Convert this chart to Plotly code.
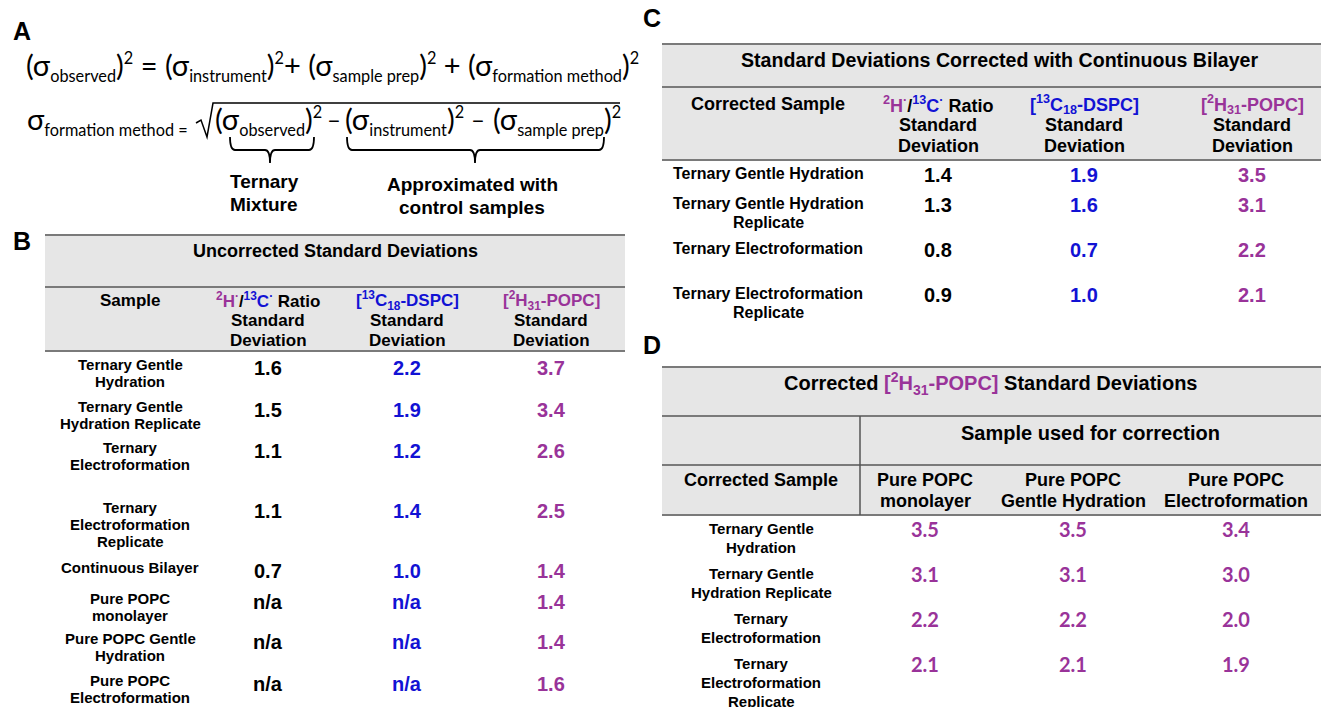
import plotly.graph_objects as go

# ------------------------------------------------------------------ data
b_title = "Uncorrected Standard Deviations"
b_samples = ["Ternary Gentle<br>Hydration", "Ternary Gentle<br>Hydration Replicate",
             "Ternary<br>Electroformation", "Ternary<br>Electroformation<br>Replicate",
             "Continuous Bilayer", "Pure POPC<br>monolayer", "Pure POPC Gentle<br>Hydration",
             "Pure POPC<br>Electroformation"]
b_ratio_sd = [1.6, 1.5, 1.1, 1.1, 0.7, None, None, None]
b_dspc_sd = [2.2, 1.9, 1.2, 1.4, 1.0, None, None, None]
b_popc_sd = [3.7, 3.4, 2.6, 2.5, 1.4, 1.4, 1.4, 1.6]

c_title = "Standard Deviations Corrected with Continuous Bilayer"
c_samples = ["Ternary Gentle Hydration", "Ternary Gentle Hydration<br>Replicate",
             "Ternary Electroformation", "Ternary Electroformation<br>Replicate"]
c_ratio_sd = [1.4, 1.3, 0.8, 0.9]
c_dspc_sd = [1.9, 1.6, 0.7, 1.0]
c_popc_sd = [3.5, 3.1, 2.2, 2.1]

d_samples = ["Ternary Gentle<br>Hydration", "Ternary Gentle<br>Hydration Replicate",
             "Ternary<br>Electroformation", "Ternary<br>Electroformation<br>Replicate"]
d_corr_samples = ["Pure POPC<br>monolayer", "Pure POPC<br>Gentle Hydration", "Pure POPC<br>Electroformation"]
d_sd_monolayer = [3.5, 3.1, 2.2, 2.1]
d_sd_gentle = [3.5, 3.1, 2.2, 2.1]
d_sd_electro = [3.4, 3.0, 2.0, 1.9]

# ------------------------------------------------------------------ style
W, H = 1321, 707
ARIAL = "Liberation Sans, Arial, sans-serif"
CALIBRI = "Lato, Carlito, Calibri, sans-serif"
BLACK = "#000000"
BLUE = "#1212d4"
PURPLE = "#993399"
FILL = "#e6e6e6"
RULE = "#7a7a7a"

RATIO_HDR = (f"<span style='color:{PURPLE}'><sup>2</sup>H<sup>·</sup></span>/"
             f"<span style='color:{BLUE}'><sup>13</sup>C<sup>·</sup></span> Ratio<br>Standard<br>Deviation")
DSPC_HDR = f"<span style='color:{BLUE}'>[<sup>13</sup>C<sub>18</sub>-DSPC]</span><br>Standard<br>Deviation"
POPC_HDR = f"<span style='color:{PURPLE}'>[<sup>2</sup>H<sub>31</sub>-POPC]</span><br>Standard<br>Deviation"

fig = go.Figure()
fig.add_trace(go.Scatter(x=[None], y=[None], mode="markers", showlegend=False, hoverinfo="skip"))


def put(x, y, s, size, color=BLACK, family=ARIAL, bold=True, xanchor="center", yanchor="middle"):
    fig.add_annotation(x=x, y=y, xref="x", yref="y", text=(f"<b>{s}</b>" if bold else s),
                       showarrow=False, font=dict(family=family, size=size, color=color),
                       xanchor=xanchor, yanchor=yanchor, align="center", borderpad=0)


def put_lines(x, y0, s, size, gap, **kw):
    for i, line in enumerate(s.split("<br>")):
        if line.strip():
            put(x, y0 + i * gap, line, size, **kw)


def hline(x0, x1, y, w=2):
    fig.add_shape(type="line", xref="x", yref="y", x0=x0, x1=x1, y0=y, y1=y,
                  line=dict(color=RULE, width=w))


def vline(x, y0, y1, w=1.5):
    fig.add_shape(type="line", xref="x", yref="y", x0=x, x1=x, y0=y0, y1=y1,
                  line=dict(color="#555555", width=w))


def box(x0, x1, y0, y1):
    fig.add_shape(type="rect", xref="x", yref="y", x0=x0, x1=x1, y0=y0, y1=y1,
                  fillcolor=FILL, line_width=0, layer="below")


def fmt(v):
    return "n/a" if v is None else f"{v:.1f}"


def rows_from(first, gaps):
    ys = [first]
    for g in gaps:
        ys.append(ys[-1] + g)
    return ys


# ------------------------------------------------------------------ panel letters
for letter, (lx, ly) in zip("ABCD", [(22, 31), (22, 241), (652, 18), (652, 345)]):
    put(lx, ly, letter, 25)

# ------------------------------------------------------------------ panel A (equations)
EQ, SUB = 29, 16.3


def sig(sub):
    return (f"(σ<sub><span style='font-size:{SUB}px'>{sub}</span></sub>)"
            f"<sup><span style='font-size:{SUB}px'>2</span></sup>")


put(25, 66, f"{sig('observed')} = {sig('instrument')}+ {sig('sample prep')} + {sig('formation method')}",
    EQ, family=CALIBRI, bold=False, xanchor="left")
put(26, 120, f"σ<sub><span style='font-size:{SUB}px'>formation method =</span></sub>", EQ,
    family=CALIBRI, bold=False, xanchor="left")
put(214, 120, sig("observed"), EQ, family=CALIBRI, bold=False, xanchor="left")
put(334, 118, "–", 24, family=CALIBRI, bold=False)
put(344, 120, sig("instrument"), EQ, family=CALIBRI, bold=False, xanchor="left")
put(478, 118, "–", 24, family=CALIBRI, bold=False)
put(622, 120, sig("sample prep"), EQ, family=CALIBRI, bold=False, xanchor="right")
# radical sign
fig.add_shape(type="path", xref="x", yref="y",
              path="M 196 123 L 201 120 L 207 137 L 213 103 L 620 103",
              line=dict(color=BLACK, width=1.5))


def brace(x0, x1, xt, top=137, mid=150, bot=163):
    r = 5
    p = (f"M {x0} {top} Q {x0} {mid} {x0 + r} {mid} L {xt - r} {mid} Q {xt} {mid} {xt} {bot} "
         f"M {xt} {bot} Q {xt} {mid} {xt + r} {mid} L {x1 - r} {mid} Q {x1} {mid} {x1} {top}")
    fig.add_shape(type="path", xref="x", yref="y", path=p, line=dict(color=BLACK, width=1.8))


brace(230, 314, 270)
brace(347, 604, 475)
put_lines(264, 181, "Ternary<br>Mixture", 19, 23)
put_lines(472, 184, "Approximated with<br>control samples", 19, 23)

# ------------------------------------------------------------------ panel B
BX0, BX1, BTOP, BSEP, BHB = 45, 625, 235, 287, 351
b_cols = [130, 268, 407, 551]
box(BX0, BX1, BTOP, BHB)
for y in (BTOP, BSEP, BHB):
    hline(BX0, BX1, y)
put(335, 251, b_title, 18)
for cx, hdr in zip(b_cols, ["Sample", RATIO_HDR, DSPC_HDR, POPC_HDR]):
    put_lines(cx, 300, hdr, 17, 20)
b_rows = rows_from(364, [42, 41, 60, 60, 31, 40, 42])
for ry, s, r, d, p in zip(b_rows, b_samples, b_ratio_sd, b_dspc_sd, b_popc_sd):
    put_lines(b_cols[0], ry, s, 15, 17)
    for cx, v, col in zip(b_cols[1:], (r, d, p), (BLACK, BLUE, PURPLE)):
        put(cx, ry + 4, fmt(v), 20, color=col)

# ------------------------------------------------------------------ panel C
CX0, CX1, CTOP, CSEP, CHB = 662, 1321, 44, 87, 160
c_cols = [768, 938, 1084, 1252]
box(CX0, CX1, CTOP, CHB)
for y in (CTOP, CSEP, CHB):
    hline(CX0, CX1, y)
put(1000, 60, c_title, 19.6)
for cx, hdr in zip(c_cols, ["Corrected Sample", RATIO_HDR, DSPC_HDR, POPC_HDR]):
    put_lines(cx, 104, hdr, 18, 21)
c_rows = rows_from(173, [30, 45, 45])
for ry, s, r, d, p in zip(c_rows, c_samples, c_ratio_sd, c_dspc_sd, c_popc_sd):
    put_lines(c_cols[0], ry, s, 16, 19)
    for cx, v, col in zip(c_cols[1:], (r, d, p), (BLACK, BLUE, PURPLE)):
        put(cx, ry + 2, fmt(v), 20, color=col)

# ------------------------------------------------------------------ panel D
DX0, DX1, DTOP, DSEP1, DSEP2, DHB, DVX = 662, 1321, 367, 416, 465, 515, 860
d_cols = [761, 925, 1073, 1236]
box(DX0, DX1, DTOP, DHB)
for y in (DTOP, DSEP1, DSEP2, DHB):
    hline(DX0, DX1, y)
vline(DVX, DSEP1, DHB)
put(990, 383, f"Corrected <span style='color:{PURPLE}'>[<sup>2</sup>H<sub>31</sub>-POPC]</span> "
              f"Standard Deviations", 20)
put(1090, 433, "Sample used for correction", 20)
for cx, hdr in zip(d_cols, ["Corrected Sample"] + d_corr_samples):
    put_lines(cx, 480, hdr, 18, 21)
d_rows = rows_from(528, [45, 45, 45])
for ry, s, a, b, c in zip(d_rows, d_samples, d_sd_monolayer, d_sd_gentle, d_sd_electro):
    put_lines(d_cols[0], ry, s, 15, 19)
    for cx, v in zip(d_cols[1:], (a, b, c)):
        put(cx, ry + 1, fmt(v), 20, color=PURPLE, family=CALIBRI)

# ------------------------------------------------------------------ layout
fig.update_layout(
    width=W, height=H, margin=dict(l=0, r=0, t=0, b=0),
    paper_bgcolor="white", plot_bgcolor="white", showlegend=False,
    xaxis=dict(range=[0, W], visible=False, fixedrange=True),
    yaxis=dict(range=[H, 0], visible=False, fixedrange=True),
)
fig.write_html("out.html")
